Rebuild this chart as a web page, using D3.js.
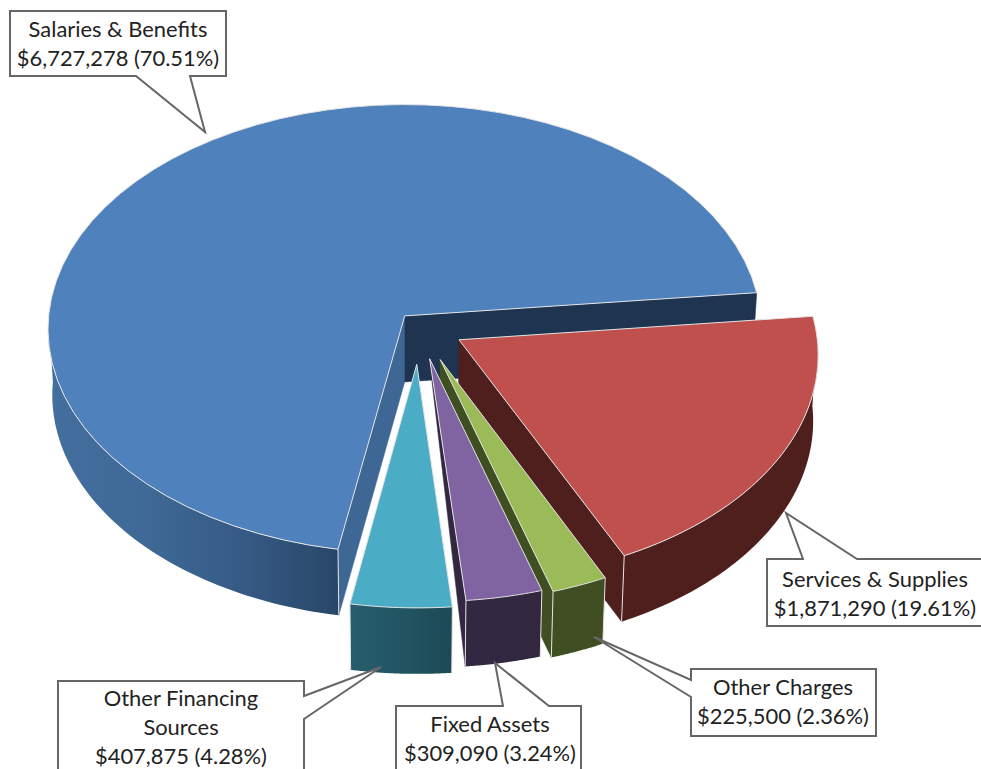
<!DOCTYPE html>
<html>
<head>
<meta charset="utf-8">
<script src="https://cdn.jsdelivr.net/npm/d3@7"></script>
<style>
  html, body { margin: 0; padding: 0; background: #fff; overflow: hidden; }
  svg { display: block; }
  text { font-family: Lato, "Open Sans", sans-serif; font-size: 21.9px; fill: #222; text-anchor: middle; }
</style>
</head>
<body>
<svg id="chart" width="981" height="769"></svg>
<script>
// chart values, clockwise from the red slice
var categories = ["Services & Supplies", "Other Charges", "Fixed Assets", "Other Financing Sources", "Salaries & Benefits"];
var amounts = [1871290, 225500, 309090, 407875, 6727278];
var percents = ["19.61%", "2.36%", "3.24%", "4.28%", "70.51%"];

var topColors = ["#c0504d", "#9bbb59", "#8064a2", "#4bacc6", "#4f81bd"];
var startWallColors = ["#4f1f1d", "#404f22", "#332842", "#265e6d", "#3e6796"];
var endWallColors = ["#4f1f1d", "#404f22", "#332842", "#265e6d", "#1e3450"];
var explode = [0.127, 0.16, 0.148, 0.17, 0.06];
var apexDepth = [66, 66, 0, 66, 66];

var svg = d3.select("#chart");

// Set up the tilted disc
var center = { x: 405, y: 315 };
var radiusX = 356;
var radiusY = 223.5;
var perspective = 0.058;
var depth = 66;
var taper = 0.012;
var discOffset = [0.04, 0.048];

// world coords (unit disc, y toward the viewer) to screen
function project(wx, wy) {
  var s = 1 - perspective * wy;
  return [center.x + radiusX * wx / s, center.y + radiusY * wy / s];
}

var pie = d3.pie().sort(null).startAngle(84 * Math.PI / 180).endAngle((84 + 360) * Math.PI / 180);
var slices = pie(amounts);

// apex of a slice in world coords, pushed out along the bisector
function apexOf(d, i) {
  var mid = (d.startAngle + d.endAngle) / 2;
  return [discOffset[0] + explode[i] * Math.sin(mid), discOffset[1] - explode[i] * Math.cos(mid)];
}

function rimPoints(apex, a0, a1) {
  return d3.range(0, 61).map(function (k) {
    var a = a0 + (a1 - a0) * k / 60;
    return project(apex[0] + Math.sin(a), apex[1] - Math.cos(a));
  });
}

// the bottom of the pie sits a little narrower than the top
function down(p, h) {
  return [p[0] + (center.x - p[0]) * taper, p[1] + (h === undefined ? depth : h)];
}

var line = d3.line();
var defs = svg.append("defs");

function addGradient(id, stops) {
  var g = defs.append("linearGradient").attr("id", id)
    .attr("gradientUnits", "userSpaceOnUse")
    .attr("x1", stops.x1).attr("x2", stops.x2).attr("y1", 0).attr("y2", 0);
  stops.colors.forEach(function (c, i) {
    g.append("stop").attr("offset", i / (stops.colors.length - 1)).attr("stop-color", c);
  });
}

addGradient("wall4", { x1: 48, x2: 340, colors: ["#436f9f", "#3f6996", "#365a85", "#284767"] });
addGradient("wall3", { x1: 350, x2: 452, colors: ["#265e6d", "#1d4a56"] });
addGradient("wall2", { x1: 465, x2: 541, colors: ["#332842", "#32273f"] });
addGradient("wall1", { x1: 550, x2: 605, colors: ["#404f22", "#3f4d21"] });
addGradient("wall0", { x1: 625, x2: 820, colors: ["#4f1f1d", "#4f1f1d"] });

var edge = "#e4e4e4";

function drawSlice(d, i) {
  var g = svg.append("g").attr("class", "slice");
  var apex = apexOf(d, i);
  var tip = project(apex[0], apex[1]);
  var rim = rimPoints(apex, d.startAngle, d.endAngle);
  var mid = rim[30];

  // flat side walls, only the ones turned toward the viewer
  [[rim[0], startWallColors[i]], [rim[60], endWallColors[i]]].forEach(function (w) {
    var p = w[0];
    var nx = -(p[1] - tip[1]), ny = p[0] - tip[0];
    if ((mid[0] - tip[0]) * nx + (mid[1] - tip[1]) * ny > 0) { nx = -nx; ny = -ny; }
    if (ny > 0) {
      g.append("path")
        .attr("d", line([tip, p, down(p), down(tip, apexDepth[i])]) + "Z")
        .attr("fill", w[1]).attr("stroke", w[1]).attr("stroke-width", 0.5);
    }
  });

  // outer curved wall, front half only
  var a0 = Math.max(d.startAngle, Math.PI / 2);
  var a1 = Math.min(d.endAngle, 3 * Math.PI / 2);
  if (a1 > a0) {
    var front = rimPoints(apex, a0, a1);
    g.append("path")
      .attr("d", line(front.concat(front.slice().reverse().map(function (p) { return down(p); }))) + "Z")
      .attr("fill", "url(#wall" + i + ")");
    // corner lines where the wall meets a flat side
    if (a0 === d.startAngle) {
      g.append("path").attr("d", line([front[0], down(front[0])]))
        .attr("stroke", edge).attr("stroke-width", 1).attr("fill", "none");
    }
    if (a1 === d.endAngle) {
      g.append("path").attr("d", line([front[60], down(front[60])]))
        .attr("stroke", edge).attr("stroke-width", 1).attr("fill", "none");
    }
  }

  // top face
  g.append("path")
    .attr("d", line([tip].concat(rim)) + "Z")
    .attr("fill", topColors[i])
    .attr("stroke", edge).attr("stroke-width", 1).attr("stroke-linejoin", "round");
}

// salaries first, then round from the right so each slice laps the one before
[4, 0, 1, 2, 3].forEach(function (i) { drawSlice(slices[i], i); });

// callouts: box corners and pointer, then text lines
function money(v) { return "$" + d3.format(",")(v); }

var callouts = [
  { i: 4, box: [10, 11, 226, 76], side: "bottom", base: [136, 190], tip: [205, 132], cx: 118, lines: [categories[4]], y: 37 },
  { i: 0, box: [767, 559, 985, 626], side: "top", base: [803, 857], tip: [786, 513], cx: 875, lines: [categories[0]], y: 587 },
  { i: 1, box: [691, 669, 876, 736], side: "left", base: [680, 697], tip: [594, 637], cx: 783, lines: [categories[1]], y: 695 },
  { i: 2, box: [396, 706, 581, 800], side: "top", base: [503, 549], tip: [495, 663], cx: 490, lines: [categories[2]], y: 732 },
  { i: 3, box: [58, 681, 304, 800], side: "right", base: [696, 719], tip: [381, 667], cx: 181, lines: ["Other Financing", "Sources"], y: 706 }
];

callouts.forEach(function (c) {
  var b = c.box, pts;
  if (c.side === "bottom") {
    pts = [[b[0], b[1]], [b[2], b[1]], [b[2], b[3]], [c.base[1], b[3]], c.tip, [c.base[0], b[3]], [b[0], b[3]]];
  } else if (c.side === "top") {
    pts = [[b[0], b[1]], [c.base[0], b[1]], c.tip, [c.base[1], b[1]], [b[2], b[1]], [b[2], b[3]], [b[0], b[3]]];
  } else if (c.side === "left") {
    pts = [[b[0], b[1]], [b[2], b[1]], [b[2], b[3]], [b[0], b[3]], [b[0], c.base[1]], c.tip, [b[0], c.base[0]]];
  } else {
    pts = [[b[0], b[1]], [b[2], b[1]], [b[2], c.base[0]], c.tip, [b[2], c.base[1]], [b[2], b[3]], [b[0], b[3]]];
  }
  svg.append("path").attr("d", line(pts) + "Z")
    .attr("fill", "#fff").attr("stroke", "#666").attr("stroke-width", 2);
  var all = c.lines.concat([money(amounts[c.i]) + " (" + percents[c.i] + ")"]);
  all.forEach(function (t, k) {
    svg.append("text").attr("x", c.cx).attr("y", c.y + k * 29).text(t);
  });
});
</script>
</body>
</html>
